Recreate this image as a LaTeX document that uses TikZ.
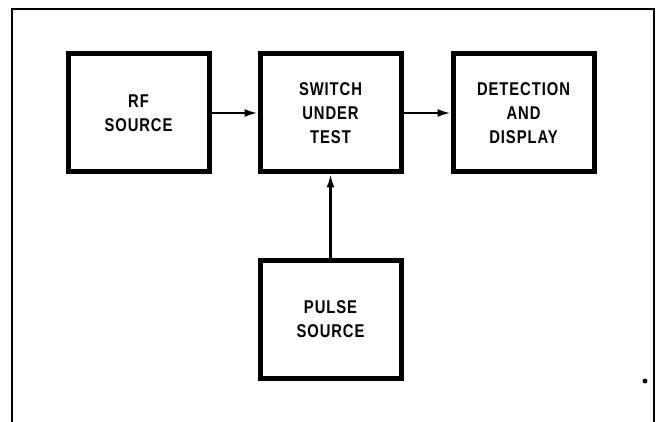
\documentclass[tikz,border=0pt]{standalone}
\usepackage{fontspec}
\setmainfont{Liberation Sans}[FakeStretch=0.8, LetterSpace=5]
\usepackage{tikz}
\usetikzlibrary{arrows.meta, positioning}

\begin{document}
\begin{tikzpicture}[
  x=1pt, y=-1pt,
  every node/.style={font=\fontsize{18.5}{24}\selectfont\bfseries},
  blockbox/.style={rectangle, draw, line width=5pt, align=center,
    minimum width=141pt, minimum height=118pt, inner sep=0pt},
  arr/.style={-{Latex[length=13pt, width=8pt]}, line width=2.2pt}
]
\useasboundingbox (0,0) rectangle (658,422);
\clip (0,0) rectangle (658,422);

% outer frame, open at the bottom
\draw[line width=2pt] (12,440) -- (12,9) -- (654,9) -- (654,440);

\node[blockbox] (rf) at (138.5,113) {RF\\SOURCE};
\node[blockbox, right=46pt of rf] (sut) {SWITCH\\UNDER\\TEST};
\node[blockbox, right=47pt of sut] (det) {DETECTION\\AND\\DISPLAY};
\node[blockbox, below=83pt of sut] (pulse) {PULSE\\SOURCE};

\draw[arr] (rf) -- (sut);
\draw[arr] (sut) -- (det);
\draw[arr] (pulse) -- (sut);

\fill (645,381) circle (2.5pt);

\end{tikzpicture}
\end{document}
